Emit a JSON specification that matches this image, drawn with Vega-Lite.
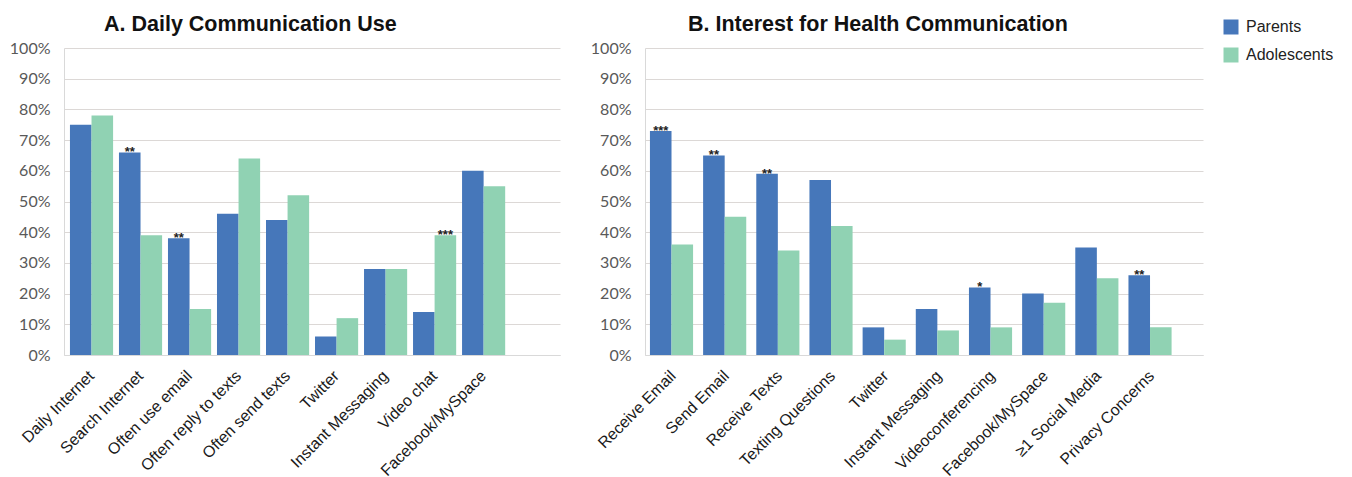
{
  "$schema": "https://vega.github.io/schema/vega-lite/v6.json",
  "background": "white",
  "padding": {"left": 9, "top": 13, "right": 5, "bottom": 2},
  "data": {"values": [
    {"panel": "A", "item": "Daily Internet", "group": "Parents", "value": 0.75, "sig": ""},
    {"panel": "A", "item": "Daily Internet", "group": "Adolescents", "value": 0.78, "sig": ""},
    {"panel": "A", "item": "Search Internet", "group": "Parents", "value": 0.66, "sig": "**"},
    {"panel": "A", "item": "Search Internet", "group": "Adolescents", "value": 0.39, "sig": ""},
    {"panel": "A", "item": "Often use email", "group": "Parents", "value": 0.38, "sig": "**"},
    {"panel": "A", "item": "Often use email", "group": "Adolescents", "value": 0.15, "sig": ""},
    {"panel": "A", "item": "Often reply to texts", "group": "Parents", "value": 0.46, "sig": ""},
    {"panel": "A", "item": "Often reply to texts", "group": "Adolescents", "value": 0.64, "sig": ""},
    {"panel": "A", "item": "Often send texts", "group": "Parents", "value": 0.44, "sig": ""},
    {"panel": "A", "item": "Often send texts", "group": "Adolescents", "value": 0.52, "sig": ""},
    {"panel": "A", "item": "Twitter", "group": "Parents", "value": 0.06, "sig": ""},
    {"panel": "A", "item": "Twitter", "group": "Adolescents", "value": 0.12, "sig": ""},
    {"panel": "A", "item": "Instant Messaging", "group": "Parents", "value": 0.28, "sig": ""},
    {"panel": "A", "item": "Instant Messaging", "group": "Adolescents", "value": 0.28, "sig": ""},
    {"panel": "A", "item": "Video chat", "group": "Parents", "value": 0.14, "sig": ""},
    {"panel": "A", "item": "Video chat", "group": "Adolescents", "value": 0.39, "sig": "***"},
    {"panel": "A", "item": "Facebook/MySpace", "group": "Parents", "value": 0.60, "sig": ""},
    {"panel": "A", "item": "Facebook/MySpace", "group": "Adolescents", "value": 0.55, "sig": ""},
    {"panel": "B", "item": "Receive Email", "group": "Parents", "value": 0.73, "sig": "***"},
    {"panel": "B", "item": "Receive Email", "group": "Adolescents", "value": 0.36, "sig": ""},
    {"panel": "B", "item": "Send Email", "group": "Parents", "value": 0.65, "sig": "**"},
    {"panel": "B", "item": "Send Email", "group": "Adolescents", "value": 0.45, "sig": ""},
    {"panel": "B", "item": "Receive Texts", "group": "Parents", "value": 0.59, "sig": "**"},
    {"panel": "B", "item": "Receive Texts", "group": "Adolescents", "value": 0.34, "sig": ""},
    {"panel": "B", "item": "Texting Questions", "group": "Parents", "value": 0.57, "sig": ""},
    {"panel": "B", "item": "Texting Questions", "group": "Adolescents", "value": 0.42, "sig": ""},
    {"panel": "B", "item": "Twitter", "group": "Parents", "value": 0.09, "sig": ""},
    {"panel": "B", "item": "Twitter", "group": "Adolescents", "value": 0.05, "sig": ""},
    {"panel": "B", "item": "Instant Messaging", "group": "Parents", "value": 0.15, "sig": ""},
    {"panel": "B", "item": "Instant Messaging", "group": "Adolescents", "value": 0.08, "sig": ""},
    {"panel": "B", "item": "Videoconferencing", "group": "Parents", "value": 0.22, "sig": "*"},
    {"panel": "B", "item": "Videoconferencing", "group": "Adolescents", "value": 0.09, "sig": ""},
    {"panel": "B", "item": "Facebook/MySpace", "group": "Parents", "value": 0.20, "sig": ""},
    {"panel": "B", "item": "Facebook/MySpace", "group": "Adolescents", "value": 0.17, "sig": ""},
    {"panel": "B", "item": "≥1 Social Media", "group": "Parents", "value": 0.35, "sig": ""},
    {"panel": "B", "item": "≥1 Social Media", "group": "Adolescents", "value": 0.25, "sig": ""},
    {"panel": "B", "item": "Privacy Concerns", "group": "Parents", "value": 0.26, "sig": "**"},
    {"panel": "B", "item": "Privacy Concerns", "group": "Adolescents", "value": 0.09, "sig": ""}
  ]},
  "hconcat": [
    {
      "title": {"text": "A. Daily Communication Use", "anchor": "start", "frame": "group", "dx": 40},
      "width": 496,
      "height": 307,
      "transform": [{"filter": "datum.panel === 'A'"}],
      "encoding": {
        "x": {"field": "item", "type": "nominal", "sort": null, "title": null,
              "scale": {"paddingInner": 0.12, "paddingOuter": 0.62, "align": 0.098}},
        "xOffset": {"field": "group", "type": "nominal", "scale": {"domain": ["Parents", "Adolescents"]}},
        "y": {"field": "value", "type": "quantitative", "title": null, "scale": {"domain": [0, 1]},
              "axis": {"values": [0, 0.1, 0.2, 0.3, 0.4, 0.5, 0.6, 0.7, 0.8, 0.9, 1], "format": ".0%"}}
      },
      "layer": [
        {"mark": {"type": "bar"},
         "encoding": {"color": {"field": "group", "type": "nominal",
            "scale": {"domain": ["Parents", "Adolescents"], "range": ["#4677ba", "#90d2b3"]}}}},
        {"transform": [{"filter": "datum.sig !== ''"}],
         "mark": {"type": "text", "baseline": "alphabetic", "dy": 4, "fontSize": 13, "fontWeight": "bold", "color": "#222222", "font": "Liberation Sans"},
         "encoding": {"text": {"field": "sig"}}}
      ]
    },
    {
      "title": {"text": "B. Interest for Health Communication", "anchor": "start", "frame": "group", "dx": 43},
      "width": 558,
      "height": 307,
      "transform": [{"filter": "datum.panel === 'B'"}],
      "encoding": {
        "x": {"field": "item", "type": "nominal", "sort": null, "title": null,
              "scale": {"paddingInner": 0.125, "paddingOuter": 0.31, "align": 0.15}},
        "xOffset": {"field": "group", "type": "nominal", "scale": {"domain": ["Parents", "Adolescents"]}},
        "y": {"field": "value", "type": "quantitative", "title": null, "scale": {"domain": [0, 1]},
              "axis": {"values": [0, 0.1, 0.2, 0.3, 0.4, 0.5, 0.6, 0.7, 0.8, 0.9, 1], "format": ".0%"}}
      },
      "layer": [
        {"mark": {"type": "bar"},
         "encoding": {"color": {"field": "group", "type": "nominal",
            "scale": {"domain": ["Parents", "Adolescents"], "range": ["#4677ba", "#90d2b3"]}}}},
        {"transform": [{"filter": "datum.sig !== ''"}],
         "mark": {"type": "text", "baseline": "alphabetic", "dy": 4, "fontSize": 13, "fontWeight": "bold", "color": "#222222", "font": "Liberation Sans"},
         "encoding": {"text": {"field": "sig"}}}
      ]
    }
  ],
  "resolve": {"scale": {"color": "shared"}},
  "config": {
    "view": {"stroke": null},
    "concat": {"spacing": 30},
    "title": {"font": "Liberation Sans", "fontSize": 21.5, "fontWeight": "bold", "color": "#111111", "offset": 5},
    "axisY": {"labelFont": "Lato", "labelFontSize": 16, "labelColor": "#595959", "ticks": false, "tickSize": 0,
              "labelPadding": 14, "minExtent": 50, "maxExtent": 50, "domainColor": "#d9d9d9",
              "gridColor": "#dcd8d6", "grid": true},
    "axisX": {"labelFont": "Liberation Sans", "labelFontSize": 16, "labelColor": "#1a1a1a", "labelAngle": -45,
              "labelAlign": "right", "labelBaseline": "middle",
              "ticks": false, "tickSize": 0, "labelPadding": 18, "domainColor": "#d9d9d9", "grid": false},
    "legend": {"title": null, "orient": "none", "legendX": 1159, "legendY": -29, "symbolType": "square", "symbolSize": 225,
               "labelFont": "Liberation Sans", "labelFontSize": 16, "labelColor": "#222222", "rowPadding": 12,
               "symbolStrokeWidth": 0, "symbolOpacity": 1, "labelOffset": 7}
  }
}
